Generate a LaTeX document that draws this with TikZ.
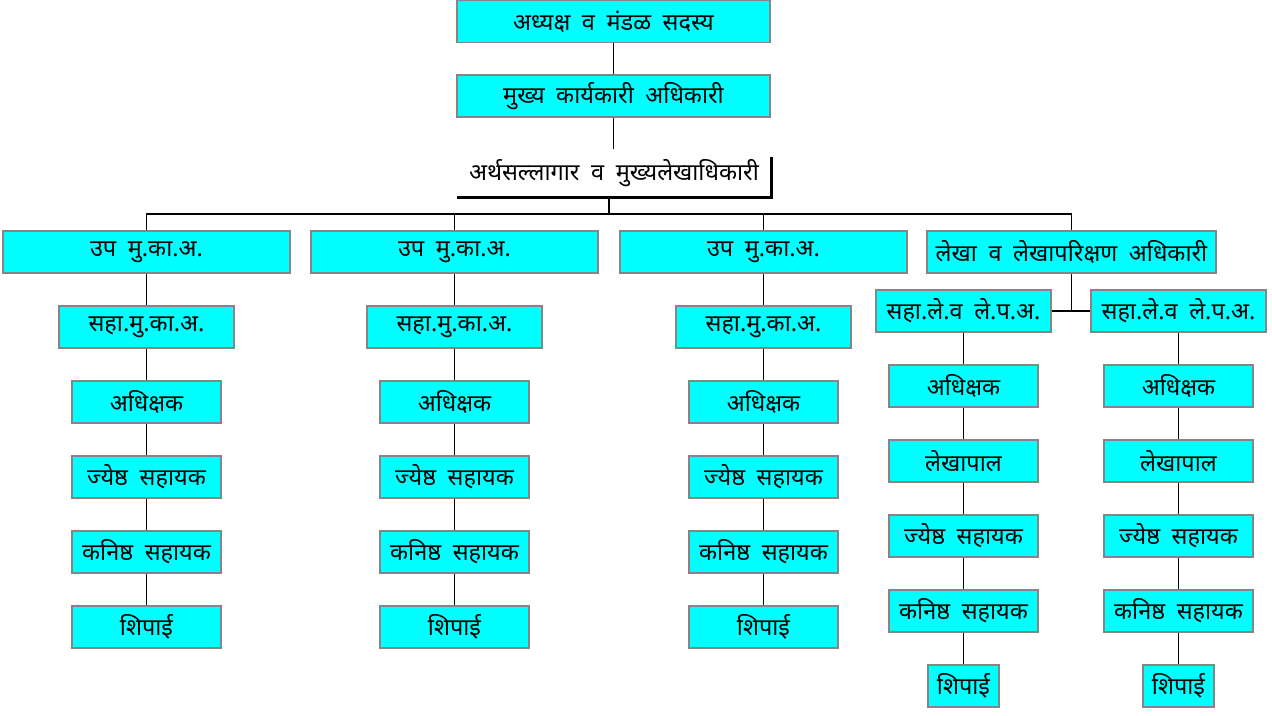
\documentclass[tikz,border=0pt]{standalone}
\usepackage{fontspec}
\newfontfamily\dev[Script=Devanagari,WordSpace=1.9]{Noto Sans}
\definecolor{boxfill}{HTML}{00FFFF}
\definecolor{boxline}{HTML}{858585}
\begin{document}
\begin{tikzpicture}[x=1pt,y=-1pt,
  box/.style={draw=boxline,fill=boxfill,line width=1.6pt,minimum height=42pt,inner sep=0pt,font=\dev\fontsize{23.5}{27}\selectfont,text=black},
  plain/.style={inner sep=0pt,font=\dev\fontsize{23.5}{27}\selectfont,text=black},
  conn/.style={draw=black,line width=1.4pt}]
\useasboundingbox (0,0) rectangle (1272,715);
\node[box,minimum width=313pt] (top) at (613.5,21.5) {अध्यक्ष व मंडळ सदस्य};
\node[box,minimum width=313pt] (ceo) at (613.5,96) {मुख्य कार्यकारी अधिकारी};
\node[plain,minimum width=314pt,minimum height=48pt] (cfo) at (614,173) {अर्थसल्लागार व मुख्यलेखाधिकारी};
\draw[line width=3pt] ([yshift=-8pt]cfo.north east) -- (cfo.south east) -- (cfo.south west);
\draw[conn] (top.south) -- (ceo.north);
\draw[conn] (ceo.south) -- (ceo.south |- cfo.north);
\coordinate (bus) at (609,214);
\node[box,minimum width=287pt] (A) at (146.5,252) {उप मु.का.अ.};
\node[box,minimum width=287pt] (B) at (454.5,252) {उप मु.का.अ.};
\node[box,minimum width=287pt] (C) at (763.5,252) {उप मु.का.अ.};
\node[box,minimum width=289pt] (D) at (1071.5,252) {लेखा व लेखापरिक्षण अधिकारी};
\draw[conn] ([xshift=-5pt]cfo.south) -- ([xshift=-5pt]cfo.south |- bus);
\draw[conn] (A.north) -- (A.north |- bus) -- (D.north |- bus) -- (D.north);
\draw[conn] (B.north) -- (B.north |- bus);
\draw[conn] (C.north) -- (C.north |- bus);
\foreach \n/\cx in {A/146.5,B/454.5,C/763.5}{
  \node[box,minimum width=175pt] (\n1) at (\cx,327) {सहा.मु.का.अ.};
  \node[box,minimum width=149pt] (\n2) at (\cx,402) {अधिक्षक};
  \node[box,minimum width=149pt] (\n3) at (\cx,477) {ज्येष्ठ सहायक};
  \node[box,minimum width=149pt] (\n4) at (\cx,552) {कनिष्ठ सहायक};
  \node[box,minimum width=149pt] (\n5) at (\cx,627) {शिपाई};
  \draw[conn] (\n.south) -- (\n1.north);
  \draw[conn] (\n1.south) -- (\n2.north);
  \draw[conn] (\n2.south) -- (\n3.north);
  \draw[conn] (\n3.south) -- (\n4.north);
  \draw[conn] (\n4.south) -- (\n5.north);
}
\foreach \n/\cx in {L/963.5,R/1178.5}{
  \node[box,minimum width=175pt] (\n1) at (\cx,311) {सहा.ले.व ले.प.अ.};
  \node[box,minimum width=149pt] (\n2) at (\cx,386) {अधिक्षक};
  \node[box,minimum width=149pt] (\n3) at (\cx,461) {लेखापाल};
  \node[box,minimum width=149pt] (\n4) at (\cx,536) {ज्येष्ठ सहायक};
  \node[box,minimum width=149pt] (\n5) at (\cx,611) {कनिष्ठ सहायक};
  \node[box,minimum width=71pt] (\n6) at (\cx,686) {शिपाई};
  \draw[conn] (\n1.south) -- (\n2.north);
  \draw[conn] (\n2.south) -- (\n3.north);
  \draw[conn] (\n3.south) -- (\n4.north);
  \draw[conn] (\n4.south) -- (\n5.north);
  \draw[conn] (\n5.south) -- (\n6.north);
}
\draw[conn] (D.south) -- (D.south |- L1.east);
\draw[conn] (L1.east) -- (R1.west);
\end{tikzpicture}
\end{document}
